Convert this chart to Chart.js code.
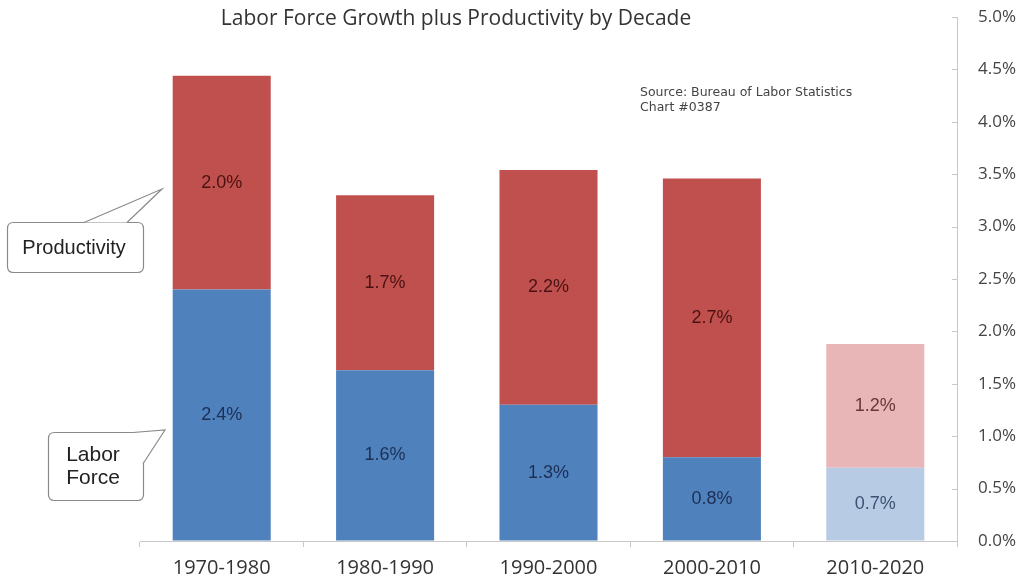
<!DOCTYPE html>
<html>
<head>
<meta charset="utf-8">
<script src="https://cdn.jsdelivr.net/npm/chart.js@4.4.0/dist/chart.umd.min.js"></script>
<style>
  html, body { margin: 0; padding: 0; background: #fff; }
  #wrap { width: 1029px; height: 578px; position: relative; }
</style>
</head>
<body>
<div id="wrap"><canvas id="chart_0" width="1029" height="578"></canvas></div>
<script>
// values (percent per year)
const decades = ['1970-1980', '1980-1990', '1990-2000', '2000-2010', '2010-2020']
const laborForce = [2.4, 1.63, 1.3, 0.8, 0.7]
const productivity = [2.04, 1.67, 2.24, 2.66, 1.18]
const yTicks = [0, 0.5, 1, 1.5, 2, 2.5, 3, 3.5, 4, 4.5, 5]

const chartTitle = 'Labor Force Growth plus Productivity by Decade'
const sourceLines = ['Source: Bureau of Labor Statistics', 'Chart #0387']

// last decade is a projection -> lighter colours
const blue = ['#4f81bd', '#4f81bd', '#4f81bd', '#4f81bd', '#b7cbe4']
const red = ['#c0504d', '#c0504d', '#c0504d', '#c0504d', '#e8b6b7']
const blueText = ['#1c2f55', '#1c2f55', '#1c2f55', '#1c2f55', '#3c5272']
const redText = ['#4a1212', '#4a1212', '#4a1212', '#4a1212', '#6a3535']

function roundRect(ctx, x, y, w, h, r) {
  ctx.beginPath()
  ctx.moveTo(x + r, y)
  ctx.lineTo(x + w - r, y)
  ctx.quadraticCurveTo(x + w, y, x + w, y + r)
  ctx.lineTo(x + w, y + h - r)
  ctx.quadraticCurveTo(x + w, y + h, x + w - r, y + h)
  ctx.lineTo(x + r, y + h)
  ctx.quadraticCurveTo(x, y + h, x, y + h - r)
  ctx.lineTo(x, y + r)
  ctx.quadraticCurveTo(x, y, x + r, y)
  ctx.closePath()
}

// box with a speech pointer; gap = [x0,y0,x1,y1] stretch of the border under the pointer
function callout(ctx, box, tip, gap) {
  ctx.fillStyle = '#fff'
  ctx.strokeStyle = '#8a8a8a'
  ctx.lineWidth = 1.2
  roundRect(ctx, box[0], box[1], box[2], box[3], 6)
  ctx.fill(); ctx.stroke()
  ctx.beginPath()
  ctx.moveTo(gap[0], gap[1]); ctx.lineTo(tip[0], tip[1]); ctx.lineTo(gap[2], gap[3])
  ctx.closePath()
  ctx.fill()
  ctx.beginPath()
  ctx.moveTo(gap[0], gap[1]); ctx.lineTo(tip[0], tip[1]); ctx.lineTo(gap[2], gap[3])
  ctx.stroke()
}

const extras = {
  id: 'extras',
  afterDatasetsDraw(chart) {
    const ctx = chart.ctx
    const y = chart.scales.y
    const area = chart.chartArea
    ctx.save()

    // value labels in the middle of each segment
    ctx.font = '18px "Liberation Sans", Arial, sans-serif'
    ctx.textAlign = 'center'
    ctx.textBaseline = 'middle'
    chart.data.datasets.forEach((ds, di) => {
      chart.getDatasetMeta(di).data.forEach((el, i) => {
        ctx.fillStyle = di === 0 ? blueText[i] : redText[i]
        ctx.fillText(ds.data[i].toFixed(1) + '%', el.x, (el.y + el.base) / 2)
      })
    })

    // small inward ticks on the right axis
    ctx.strokeStyle = '#c8c8c8'
    ctx.lineWidth = 1
    yTicks.forEach(v => {
      const py = Math.round(y.getPixelForValue(v)) + 0.5
      ctx.beginPath()
      ctx.moveTo(area.right - 5, py)
      ctx.lineTo(area.right, py)
      ctx.stroke()
    })

    // title
    ctx.fillStyle = '#333'
    ctx.font = '21px "Open Sans", sans-serif'
    ctx.fillText(chartTitle, 456, 19)

    // source note
    ctx.fillStyle = '#444'
    ctx.textAlign = 'left'
    ctx.font = '12.5px "DejaVu Sans", sans-serif'
    ctx.fillText(sourceLines[0], 640, 93)
    ctx.fillText(sourceLines[1], 640, 108)

    // callouts
    callout(ctx, [7.5, 222.5, 136, 50], [162, 189], [84, 222.5, 127, 222.5])
    callout(ctx, [48.5, 432.5, 95, 68], [165, 430], [133, 432.5, 143.5, 463])

    ctx.fillStyle = '#222'
    ctx.textAlign = 'center'
    ctx.font = '20px "Liberation Sans", Arial, sans-serif'
    ctx.fillText('Productivity', 74, 248)
    ctx.font = '21px "Liberation Sans", Arial, sans-serif'
    ctx.fillText('Labor', 93, 455)
    ctx.fillText('Force', 93, 478)
    ctx.restore()
  }
}

new Chart(document.getElementById('chart_0'), {
  type: 'bar',
  data: {
    labels: decades,
    datasets: [
      { label: 'Labor Force', data: laborForce, backgroundColor: blue, borderWidth: 0 },
      { label: 'Productivity', data: productivity, backgroundColor: red, borderWidth: 0 }
    ]
  },
  options: {
    responsive: false,
    animation: false,
    layout: { padding: { left: 140, top: 17, right: 0, bottom: 0 } },
    datasets: { bar: { categoryPercentage: 1, barPercentage: 0.6 } },
    plugins: { legend: { display: false }, title: { display: false }, tooltip: { enabled: false } },
    scales: {
      x: {
        stacked: true,
        afterFit: s => { s.height = 37; s.paddingLeft = 0; s.paddingRight = 0 },
        grid: { offset: true, drawOnChartArea: false, drawTicks: true, tickLength: 6, color: '#c8c8c8' },
        border: { color: '#c8c8c8' },
        ticks: { color: '#333', font: { family: 'Open Sans', size: 20, lineHeight: 1 }, padding: 11 }
      },
      y: {
        stacked: true,
        position: 'right',
        min: 0,
        max: 5,
        afterBuildTicks: s => { s.ticks = yTicks.map(v => ({ value: v })) },
        afterFit: s => { s.width = 72; s.paddingTop = 0; s.paddingBottom = 0 },
        grid: { drawOnChartArea: false, drawTicks: false },
        border: { color: '#c8c8c8' },
        ticks: { color: '#444', font: { family: 'Open Sans', size: 17 }, padding: 21,
          callback: v => v.toFixed(1) + '%' }
      }
    }
  },
  plugins: [extras]
})
</script>
</body>
</html>
